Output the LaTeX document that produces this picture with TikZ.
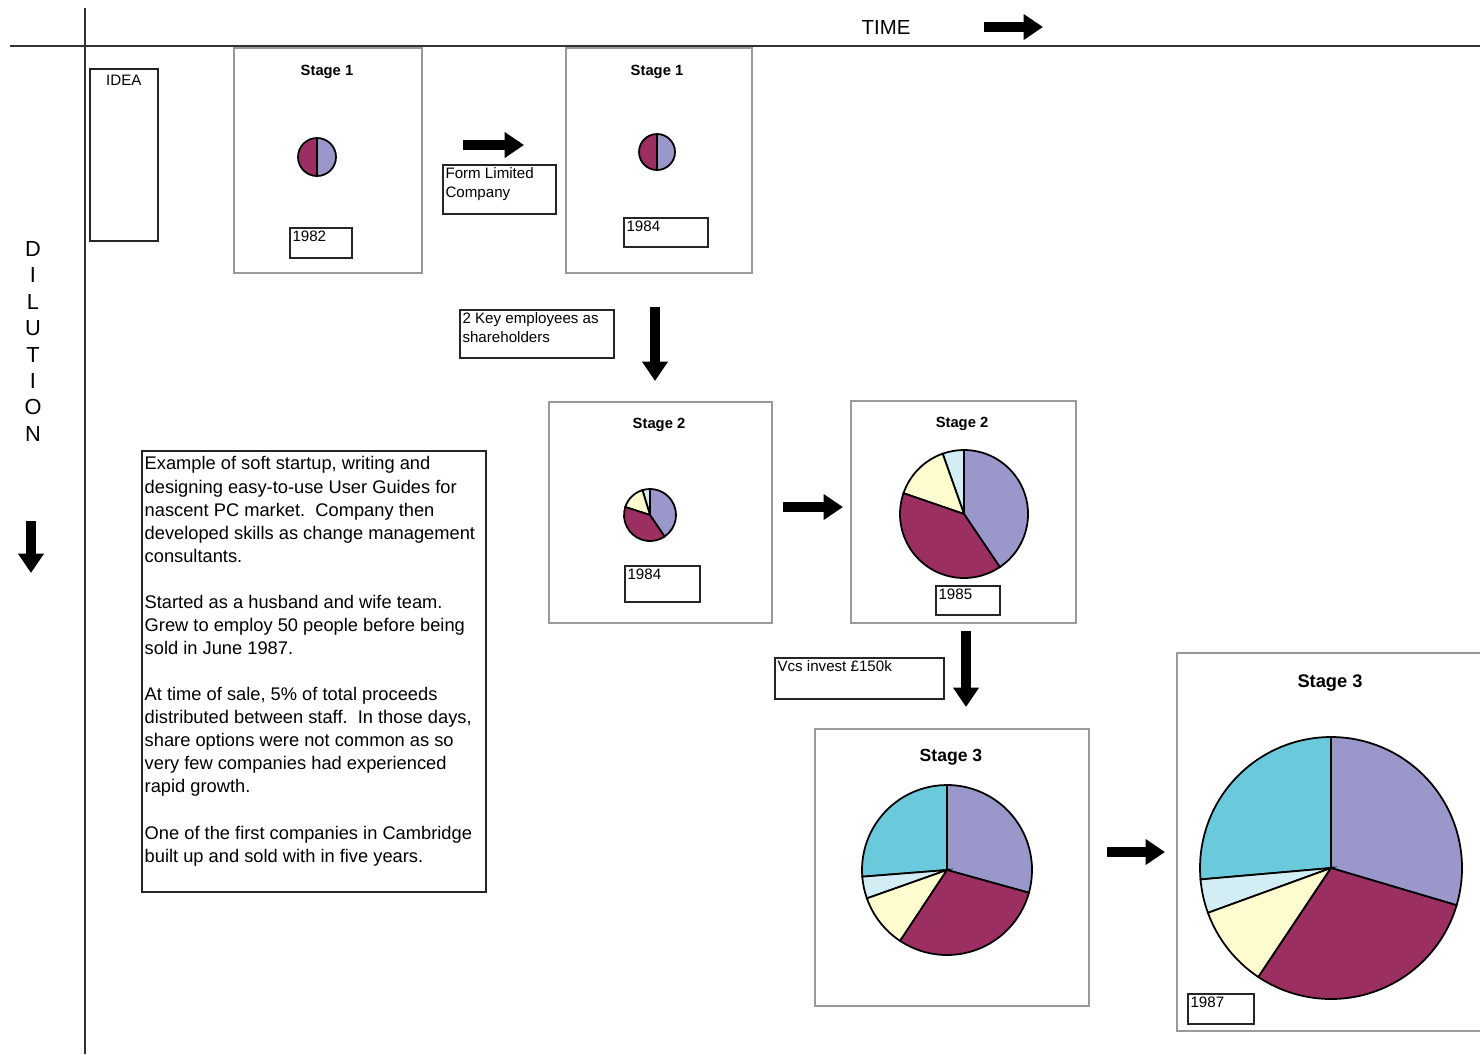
\documentclass[tikz,border=0pt]{standalone}
\usepackage{fontspec}
\setmainfont{Liberation Sans}
\usetikzlibrary{arrows.meta,positioning}

\definecolor{lavanda}{HTML}{9A98CA}
\definecolor{prugna}{HTML}{9B2F62}
\definecolor{crema}{HTML}{FFFDD0}
\definecolor{azzurrino}{HTML}{D2EEF4}
\definecolor{ciano}{HTML}{6AC9DB}

\tikzset{
  stagebox/.style={draw=black!40, line width=0.45pt, anchor=north west, inner sep=0pt},
  notebox/.style={draw=black!85, line width=0.45pt, anchor=north west, inner sep=0pt},
  notetext/.style={anchor=north west, inner sep=0.8pt, align=left, font=\fontsize{4.3}{5.4}\selectfont},
  stagetitle/.style={font=\bfseries\fontsize{4.2}{5}\selectfont},
  bigarrow/.style={line width=2.6pt, -{Triangle[width=7pt,length=5.5pt]}},
  axis/.style={draw=black!80, line width=0.7pt},
  slice/.style={draw=black, line width=0.5pt},
}

% fetta di torta: centro x, centro y, raggio, angolo iniziale, angolo finale, colore
\newcommand{\fetta}[6]{\filldraw[slice, fill=#6] (#1,#2) -- ++(-#4:#3) arc[start angle=-#4, end angle=-#5, radius=#3] -- cycle;}

\begin{document}
\begin{tikzpicture}[x=0.01cm, y=-0.01cm]
    \useasboundingbox (0,0) rectangle (1480,1054);

    % Assi
    \draw[axis] (10,46) -- (1480,46);
    \draw[axis] (85,8) -- (85,1054);
    \node[font=\fontsize{5.8}{6}\selectfont] (time) at (886,27) {TIME};
    \draw[bigarrow] (984,27) -- (1043,27);
    \foreach \l [count=\i] in {D,I,L,U,T,I,O,N}
        \node[font=\fontsize{6.2}{7}\selectfont, inner sep=0pt] (dil\i) at (33,222.6+26.4*\i) {\l};
    \draw[bigarrow] (31,521) -- (31,573);

    % Idea
    \node[notebox, minimum width=0.68cm, minimum height=1.72cm] (idea) at (89,68) {};
    \node[notetext, anchor=north] (ideatext) at ([yshift=-1pt]idea.north) {IDEA};

    % Stage 1 (1982)
    \node[stagebox, minimum width=1.88cm, minimum height=2.25cm] (s1a) at (233,47) {};
    \node[stagetitle] (s1atitle) at (327,72) {Stage 1};
    \fetta{317}{157}{19}{270}{450}{lavanda}
    \fetta{317}{157}{19}{90}{270}{prugna}
    \node[notebox, minimum width=0.62cm, minimum height=0.30cm] (y1982) at (289,227) {};
    \node[notetext] (y1982text) at (y1982.north west) {1982};

    \draw[bigarrow] (463,145) -- (524,145);
    \node[notebox, minimum width=1.13cm, minimum height=0.49cm] (form) at (442,164) {};
    \node[notetext] (formtext) at (form.north west) {Form Limited\\Company};

    % Stage 1 (1984)
    \node[stagebox, minimum width=1.86cm, minimum height=2.25cm] (s1b) at (565,47) {};
    \node[stagetitle] (s1btitle) at (657,72) {Stage 1};
    \fetta{657}{152}{18}{270}{450}{lavanda}
    \fetta{657}{152}{18}{90}{270}{prugna}
    \node[notebox, minimum width=0.84cm, minimum height=0.29cm] (y1984a) at (623,217) {};
    \node[notetext] (y1984atext) at (y1984a.north west) {1984};

    \node[notebox, minimum width=1.54cm, minimum height=0.48cm] (key) at (459,309) {};
    \node[notetext] (keytext) at (key.north west) {2 Key employees as\\shareholders};
    \draw[bigarrow] (655,307) -- (655,381);

    % Stage 2 (1984)
    \node[stagebox, minimum width=2.23cm, minimum height=2.21cm] (s2a) at (548,401) {};
    \node[stagetitle] (s2atitle) at (659,425) {Stage 2};
    \foreach \a/\b/\c in {304/450/lavanda, 90/107/azzurrino, 107/162/crema, 162/304/prugna}
        {\fetta{650}{515}{26}{\a}{\b}{\c}}
    \node[notebox, minimum width=0.75cm, minimum height=0.36cm] (y1984b) at (624,565) {};
    \node[notetext] (y1984btext) at (y1984b.north west) {1984};

    \draw[bigarrow] (783,507) -- (843,507);

    % Stage 2 (1985)
    \node[stagebox, minimum width=2.25cm, minimum height=2.22cm] (s2b) at (850,400) {};
    \node[stagetitle] (s2btitle) at (962,424) {Stage 2};
    \foreach \a/\b/\c in {304/450/lavanda, 90/109.5/azzurrino, 109.5/161/crema, 161/304/prugna}
        {\fetta{964}{514}{64}{\a}{\b}{\c}}
    \node[notebox, minimum width=0.64cm, minimum height=0.29cm] (y1985) at (935,585) {};
    \node[notetext] (y1985text) at (y1985.north west) {1985};

    \node[notebox, minimum width=1.69cm, minimum height=0.41cm] (vcs) at (774,657) {};
    \node[notetext] (vcstext) at (vcs.north west) {Vcs invest £150k};
    \draw[bigarrow] (966,631) -- (966,707);

    % Stage 3
    \node[stagebox, minimum width=2.74cm, minimum height=2.77cm] (s3a) at (814,728) {};
    \node[stagetitle, font=\bfseries\fontsize{5}{6}\selectfont] (s3atitle) at (951,757) {Stage 3};
    \foreach \a/\b/\c in {344.5/450/lavanda, 90/184.5/ciano, 184.5/199.5/azzurrino, 199.5/236.5/crema, 236.5/344.5/prugna}
        {\fetta{947}{870}{85}{\a}{\b}{\c}}

    \draw[bigarrow] (1107,852) -- (1165,852);

    % Stage 3 (1987)
    \node[stagebox, minimum width=3.2cm, minimum height=3.78cm] (s3b) at (1176,652) {};
    \node[stagetitle, font=\bfseries\fontsize{5.2}{6}\selectfont] (s3btitle) at (1330,683) {Stage 3};
    \foreach \a/\b/\c in {343.5/450/lavanda, 90/185/ciano, 185/200/azzurrino, 200/236.3/crema, 236.3/343.5/prugna}
        {\fetta{1331}{868}{131}{\a}{\b}{\c}}
    \node[notebox, minimum width=0.66cm, minimum height=0.30cm] (y1987) at (1187,993) {};
    \node[notetext] (y1987text) at (y1987.north west) {1987};

    % Descrizione
    \node[notebox, minimum width=3.44cm, minimum height=4.41cm] (desc) at (141,450) {};
    \node[notetext, inner sep=0pt, font=\fontsize{5.2}{6.56}\selectfont] (desctext) at (144,456)
        {Example of soft startup, writing and\\
         designing easy-to-use User Guides for\\
         nascent PC market.\ \ Company then\\
         developed skills as change management\\
         consultants.\\[6.56pt]
         Started as a husband and wife team.\\
         Grew to employ 50 people before being\\
         sold in June 1987.\\[6.56pt]
         At time of sale, 5\% of total proceeds\\
         distributed between staff.\ \ In those days,\\
         share options were not common as so\\
         very few companies had experienced\\
         rapid growth.\\[6.56pt]
         One of the first companies in Cambridge\\
         built up and sold with in five years.};
\end{tikzpicture}
\end{document}
